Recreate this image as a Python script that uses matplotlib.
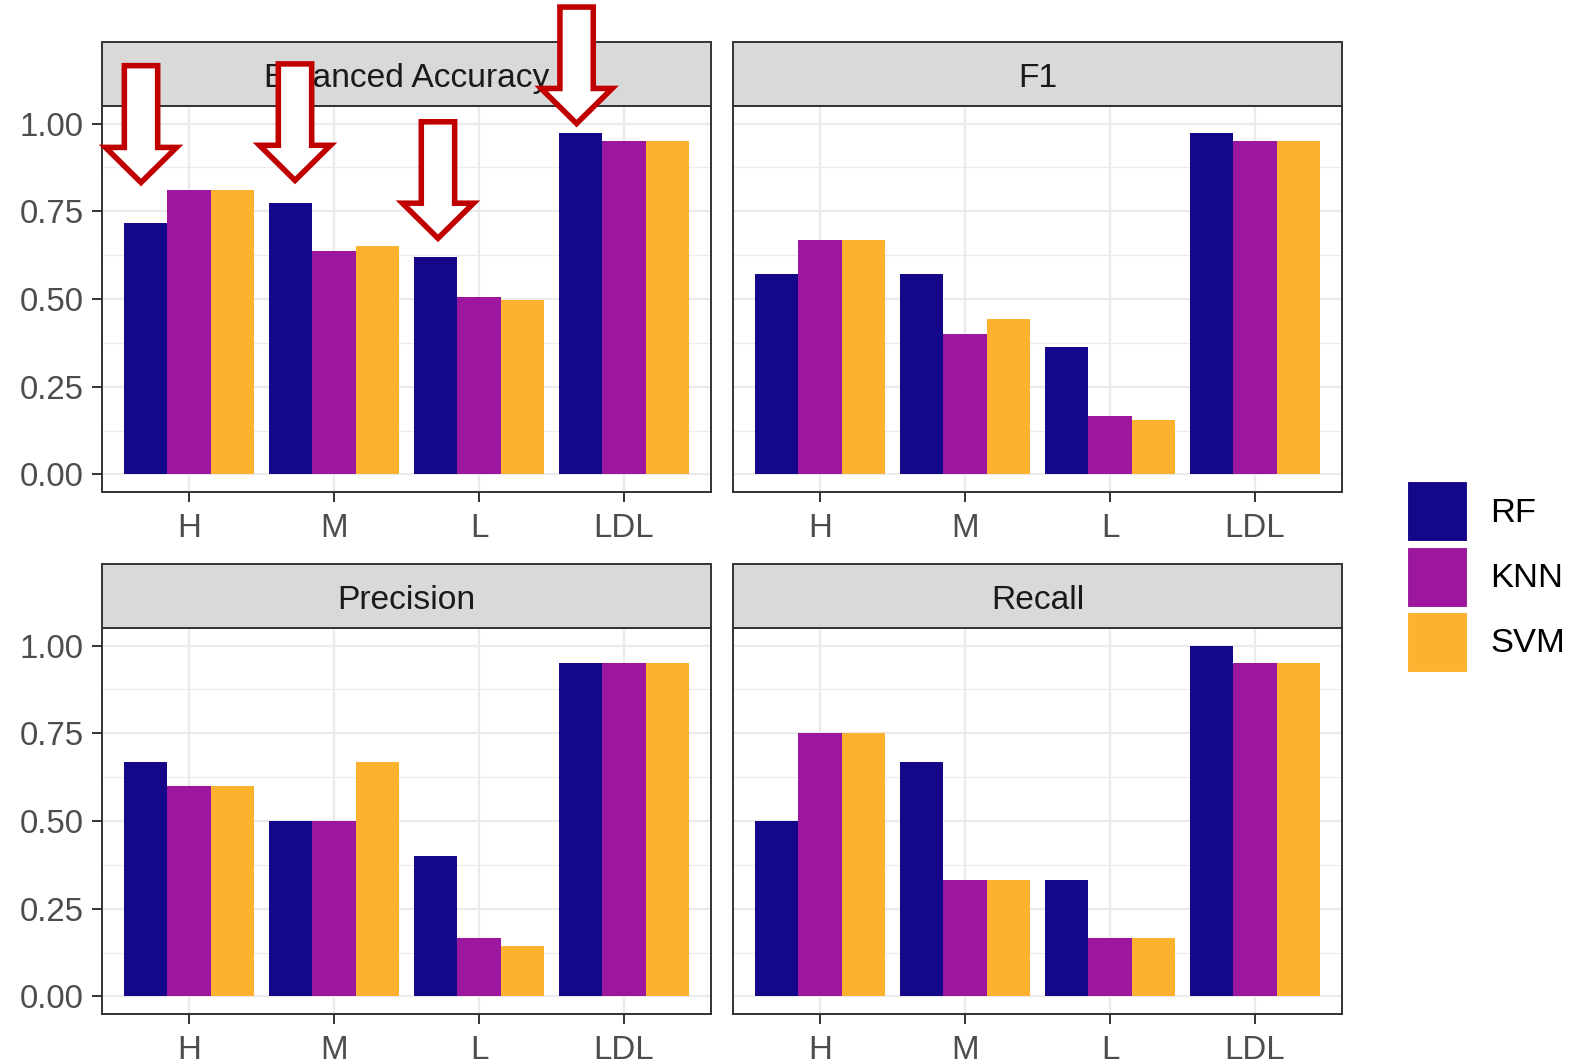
import matplotlib
matplotlib.use("Agg")
import matplotlib.pyplot as plt
from matplotlib.patches import Rectangle, Polygon
import numpy as np

plt.rcParams['font.family'] = ['Liberation Sans', 'DejaVu Sans']

categories = ["H", "M", "L", "LDL"]
models = ["RF", "KNN", "SVM"]
colors = ["#15078A", "#9C179E", "#FCB22F"]

metrics = ["Balanced Accuracy", "F1", "Precision", "Recall"]

bal_acc_rf = [0.718, 0.775, 0.621, 0.974]
bal_acc_knn = [0.812, 0.638, 0.507, 0.949]
bal_acc_svm = [0.812, 0.652, 0.496, 0.949]

f1_rf = [0.571, 0.571, 0.364, 0.974]
f1_knn = [0.667, 0.400, 0.167, 0.949]
f1_svm = [0.667, 0.444, 0.154, 0.949]

prec_rf = [0.667, 0.500, 0.400, 0.949]
prec_knn = [0.600, 0.500, 0.167, 0.949]
prec_svm = [0.600, 0.667, 0.143, 0.949]

rec_rf = [0.500, 0.667, 0.333, 1.000]
rec_knn = [0.750, 0.333, 0.167, 0.949]
rec_svm = [0.750, 0.333, 0.167, 0.949]

values = {
    "Balanced Accuracy": [bal_acc_rf, bal_acc_knn, bal_acc_svm],
    "F1": [f1_rf, f1_knn, f1_svm],
    "Precision": [prec_rf, prec_knn, prec_svm],
    "Recall": [rec_rf, rec_knn, rec_svm],
}

# annotation arrows on the Balanced Accuracy panel: (x position, tip value, tail value)
arrow_x = [0.669, 1.731, 2.717, 3.673]
arrow_tips = [0.832, 0.838, 0.673, 1.000]
arrow_tails = [1.165, 1.170, 1.005, 1.332]

W, H = 1575, 1063
fig = plt.figure(figsize=(W / 100, H / 100), dpi=100)

fs_tick = 23.8
fs_strip = 24.2
fs_leg = 24.8
ax_w = 609 / W
ax_h = 386 / H
lefts = [102 / W, 733 / W]
bottoms = [(H - 492) / H, (H - 1014) / H]
strip_h = 64 / 386

grey20 = "#333333"
gridc = "#EBEBEB"

axes = []
for i, m in enumerate(metrics):
    r, c = divmod(i, 2)
    ax = fig.add_axes([lefts[c], bottoms[r], ax_w, ax_h])
    axes.append(ax)
    x = np.arange(1, len(categories) + 1)
    bw = 0.3
    for j, (mod, col) in enumerate(zip(models, colors)):
        ax.bar(x + (j - 1) * bw, values[m][j], width=bw, color=col,
               label=mod, zorder=3, linewidth=0)
    ax.set_xlim(0.4, 4.6)
    ax.set_ylim(-0.05, 1.05)
    ax.set_xticks(x)
    ax.set_xticklabels(categories)
    ax.set_yticks([0, 0.25, 0.5, 0.75, 1.0])
    ax.set_yticks([0.125, 0.375, 0.625, 0.875], minor=True)
    ax.set_xticks([], minor=True)
    ax.grid(which="major", color=gridc, linewidth=1.6, zorder=0)
    ax.grid(which="minor", axis="y", color=gridc, linewidth=0.8, zorder=0)
    ax.set_axisbelow(True)
    for s in ax.spines.values():
        s.set_color(grey20)
        s.set_linewidth(1.4)
    ax.tick_params(axis="both", which="major", length=7, width=1.4,
                   color=grey20, labelsize=fs_tick, labelcolor="#4D4D4D")
    ax.tick_params(axis="x", pad=8)
    ax.tick_params(axis="y", pad=6)
    ax.tick_params(which="minor", length=0)
    if c == 1:
        ax.tick_params(axis="y", which="both", length=0, labelleft=False)
    else:
        ax.set_yticklabels(["0.00", "0.25", "0.50", "0.75", "1.00"])
    # strip
    strip = Rectangle((0, 1), 1, strip_h, transform=ax.transAxes,
                      facecolor="#D9D9D9", edgecolor=grey20, linewidth=1.4,
                      clip_on=False, zorder=5)
    ax.add_patch(strip)
    ax.text(0.5, 1 + strip_h / 2 - 0.011, m, transform=ax.transAxes, ha="center",
            va="center", fontsize=fs_strip, color="#1A1A1A", zorder=6)

# arrows
ax0 = axes[0]
shaft_hw = 0.115
head_hw = 0.245
head_len = 0.100
for cx, tip, tail in zip(arrow_x, arrow_tips, arrow_tails):
    hb = tip + head_len
    pts = [(cx - shaft_hw, tail), (cx + shaft_hw, tail), (cx + shaft_hw, hb),
           (cx + head_hw, hb), (cx, tip), (cx - head_hw, hb),
           (cx - shaft_hw, hb)]
    ax0.add_patch(Polygon(pts, closed=True, facecolor="white",
                          edgecolor="#C00000", linewidth=4,
                          clip_on=False, zorder=10, joinstyle="miter"))

# legend (drawn manually to match ggplot key sizes)
key_x0, key_w, key_h, key_gap = 1407, 60, 60, 5.5
key_top = 481
for k, (mod, col) in enumerate(zip(models, colors)):
    top = key_top + k * (key_h + key_gap)
    fig.patches.append(Rectangle((key_x0 / W, (H - top - key_h) / H),
                                 key_w / W, key_h / H, transform=fig.transFigure,
                                 facecolor=col, edgecolor="white", linewidth=0.8))
    fig.text(1490 / W, (H - top - key_h / 2 - 2) / H, mod, fontsize=fs_leg,
             ha="left", va="center", color="black")

fig.savefig("out.png", dpi=100)
